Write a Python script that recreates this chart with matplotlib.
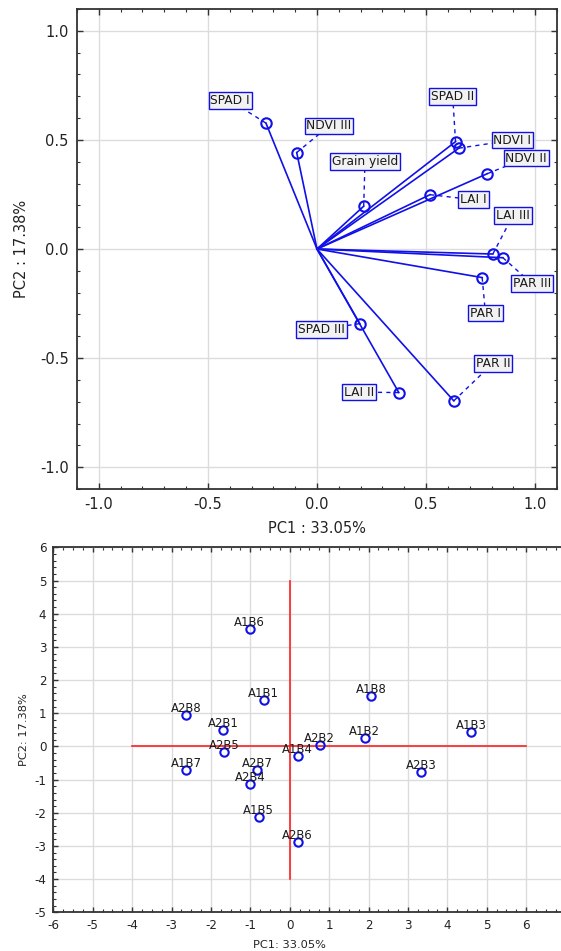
import matplotlib
matplotlib.use("Agg")
import matplotlib.pyplot as plt
from matplotlib.ticker import MultipleLocator, FormatStrFormatter, FixedLocator

plt.rcParams['font.family'] = ['DejaVu Sans']
plt.rcParams['axes.unicode_minus'] = False

# ---- Loadings (top biplot) ----
variables = ["SPAD I", "NDVI III", "Grain yield", "SPAD II", "NDVI I", "NDVI II",
             "LAI I", "LAI III", "PAR III", "PAR I", "SPAD III", "LAI II", "PAR II"]
pc1_load = [-0.234, -0.093, 0.214, 0.635, 0.650, 0.780, 0.518, 0.806, 0.852, 0.757, 0.196, 0.375, 0.627]
pc2_load = [0.577, 0.442, 0.196, 0.492, 0.462, 0.345, 0.249, -0.023, -0.040, -0.131, -0.342, -0.658, -0.696]
label_x = [-0.398, 0.055, 0.220, 0.622, 0.896, 0.959, 0.717, 0.899, 0.986, 0.772, 0.021, 0.191, 0.806]
label_y = [0.680, 0.564, 0.400, 0.700, 0.499, 0.417, 0.226, 0.155, -0.159, -0.294, -0.368, -0.656, -0.524]

# ---- Scores (bottom plot) ----
treatments = ["A1B6", "A1B1", "A2B8", "A2B1", "A2B5", "A1B7", "A2B7", "A2B4", "A1B5",
              "A2B6", "A1B4", "A2B2", "A1B2", "A1B8", "A2B3", "A1B3"]
pc1_score = [-1.02, -0.66, -2.63, -1.69, -1.66, -2.62, -0.83, -1.00, -0.79,
             0.20, 0.20, 0.76, 1.90, 2.06, 3.34, 4.61]
pc2_score = [3.54, 1.39, 0.95, 0.50, -0.18, -0.71, -0.72, -1.12, -2.12,
             -2.87, -0.29, 0.03, 0.24, 1.53, -0.77, 0.43]
x_ticks2 = [-6, -5, -4, -3, -2, -1, 0, 1, 2, 3, 4, 5, 6]

BLUE = "#1010e8"
GRID = "#dcdcdc"

fig = plt.figure(figsize=(5.61, 9.51), dpi=100)

# ================= Top plot =================
ax1 = fig.add_axes([77/561, 1-489/951, 480/561, 480/951])
ax1.set_xlim(-1.1, 1.1)
ax1.set_ylim(-1.1, 1.1)
ax1.xaxis.set_major_locator(MultipleLocator(0.5))
ax1.yaxis.set_major_locator(MultipleLocator(0.5))
ax1.xaxis.set_minor_locator(MultipleLocator(0.1))
ax1.yaxis.set_minor_locator(MultipleLocator(0.1))
ax1.xaxis.set_major_formatter(FormatStrFormatter('%.1f'))
ax1.yaxis.set_major_formatter(FormatStrFormatter('%.1f'))
ax1.grid(True, which='major', color=GRID, linewidth=1.0)
ax1.set_axisbelow(True)
ax1.tick_params(which='both', direction='in', top=True, right=True, color='#333333')
ax1.tick_params(which='major', length=4, width=1, labelsize=10.5, pad=6, labelcolor='#222222')
ax1.tick_params(which='minor', length=2.5, width=0.8)
for s in ax1.spines.values():
    s.set_linewidth(1.3)
    s.set_color('#333333')

for name, x, y, lx, ly in zip(variables, pc1_load, pc2_load, label_x, label_y):
    ax1.plot([0, x], [0, y], color=BLUE, lw=1.2, zorder=3)
    ax1.plot([x, lx], [y, ly], color=BLUE, lw=1.0, ls=(0, (3, 3)), zorder=2)
    ax1.plot([x], [y], marker='o', ms=7.5, mfc='none', mec=BLUE, mew=1.5, zorder=4)
    ax1.text(lx, ly, name, ha='center', va='center', fontsize=8.8, color='#1a1a1a',
             zorder=5,
             bbox=dict(boxstyle='square,pad=0.15', facecolor='#f2f2f2',
                       edgecolor=BLUE, linewidth=1.0))

ax1.set_xlabel("PC1 : 33.05%", fontsize=10.5, color='#222222', labelpad=6)
ax1.set_ylabel("PC2 : 17.38%", fontsize=10.5, color='#222222', labelpad=8)

# ================= Bottom plot =================
ax2 = fig.add_axes([53.3/561, 1-912.3/951, 13.2*39.4/561, 364.9/951])
ax2.set_xlim(-6, 7.2)
ax2.set_ylim(-5, 6)
ax2.xaxis.set_major_locator(FixedLocator(x_ticks2))
ax2.yaxis.set_major_locator(MultipleLocator(1))
ax2.xaxis.set_minor_locator(MultipleLocator(0.25))
ax2.yaxis.set_minor_locator(MultipleLocator(0.2))
ax2.xaxis.set_major_formatter(FormatStrFormatter('%d'))
ax2.yaxis.set_major_formatter(FormatStrFormatter('%d'))
ax2.grid(True, which='major', color=GRID, linewidth=1.0)
ax2.set_axisbelow(True)
ax2.tick_params(which='both', direction='in', top=True, right=False, color='#333333')
ax2.tick_params(which='major', length=3.5, width=1, labelsize=8.6, pad=5, labelcolor='#222222')
ax2.tick_params(which='minor', length=2, width=0.8)
for s in ax2.spines.values():
    s.set_linewidth(1.3)
    s.set_color('#333333')

ax2.plot([-4, 6], [0, 0], color='#ff2020', lw=1.2, zorder=2)
ax2.plot([0, 0], [-4, 5], color='#ff2020', lw=1.2, zorder=2)

ax2.plot(pc1_score, pc2_score, ls='none', marker='o', ms=6, mfc='none', mec=BLUE, mew=1.5, zorder=4)
for name, x, y in zip(treatments, pc1_score, pc2_score):
    ax2.annotate(name, (x, y), xytext=(0, 2.2), textcoords='offset points',
                 ha='center', va='baseline', fontsize=8.4, color='#1a1a1a', zorder=5)

ax2.set_xlabel("PC1: 33.05%", fontsize=8.2, color='#222222', labelpad=5)
ax2.set_ylabel("PC2: 17.38%", fontsize=8.2, color='#222222', labelpad=4)
ax2.xaxis.set_label_coords((289.3-53.3)/(13.2*39.4), -0.075)

fig.savefig("out.png", dpi=100)
